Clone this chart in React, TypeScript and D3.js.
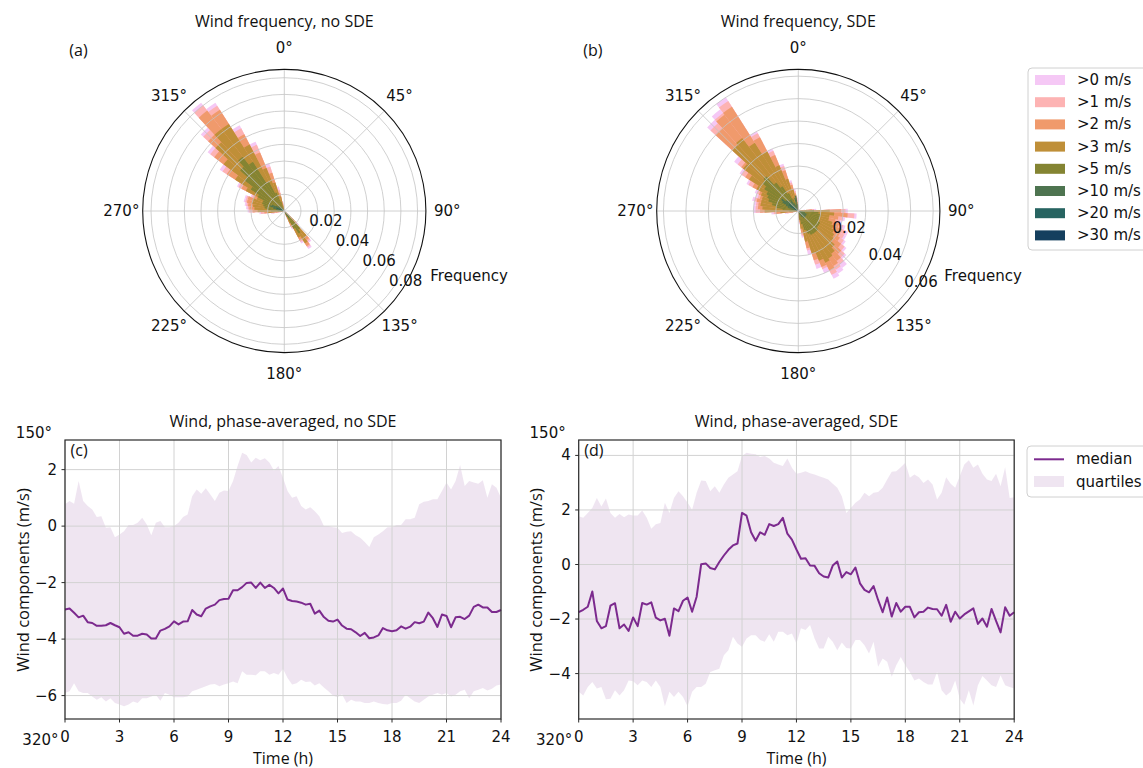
import React from 'react';
import * as d3 from 'd3';

const SANS = "'DejaVu Sans', sans-serif";
const HUMAN = "'Open Sans', sans-serif";

// speed classes of the wind rose
const SPEED_LABELS = ['>0 m/s', '>1 m/s', '>2 m/s', '>3 m/s', '>5 m/s', '>10 m/s', '>20 m/s', '>30 m/s'];
const SPEED_COLORS = ['#f5c8f5', '#fdb3b3', '#f09a6c', '#bf8f38', '#848432', '#4e7450', '#276461', '#153f5e'];
const BIN_WIDTH = 5; // degrees

// (a) no SDE: direction bins (deg) and frequency for each speed class
const DIRS_A = [255, 260, 265, 270, 275, 280, 285, 290, 295, 300, 305, 310, 315, 320, 325, 330, 335, 340, 345, 350, 355,
  130, 135, 140, 145, 150, 155, 160];
const A_GT0 = [0.004, 0.008, 0.015, 0.022, 0.023, 0.024, 0.025, 0.025, 0.022, 0.032, 0.046, 0.058, 0.068, 0.082, 0.077, 0.058, 0.045, 0.030, 0.015, 0.006, 0.002,
  0.004, 0.012, 0.024, 0.027, 0.022, 0.012, 0.005];
const A_GT1 = [0.003, 0.007, 0.014, 0.021, 0.022, 0.023, 0.024, 0.024, 0.021, 0.031, 0.044, 0.056, 0.066, 0.080, 0.075, 0.056, 0.043, 0.028, 0.013, 0.005, 0.001,
  0.003, 0.011, 0.023, 0.026, 0.021, 0.011, 0.004];
const A_GT2 = [0.002, 0.005, 0.012, 0.019, 0.021, 0.022, 0.023, 0.023, 0.020, 0.029, 0.041, 0.053, 0.062, 0.076, 0.072, 0.052, 0.038, 0.024, 0.011, 0.004, 0.001,
  0.002, 0.010, 0.022, 0.025, 0.020, 0.010, 0.003];
const A_GT3 = [0.001, 0.003, 0.010, 0.016, 0.018, 0.019, 0.020, 0.020, 0.018, 0.026, 0.035, 0.046, 0.056, 0.062, 0.062, 0.045, 0.028, 0.018, 0.009, 0.003, 0,
  0.001, 0.008, 0.020, 0.023, 0.018, 0.008, 0.002];
const A_GT5 = [0, 0.001, 0.004, 0.008, 0.010, 0.012, 0.013, 0.014, 0.014, 0.018, 0.024, 0.030, 0.036, 0.041, 0.035, 0.020, 0.012, 0.006, 0.002, 0.001, 0,
  0, 0.005, 0.014, 0.016, 0.012, 0.004, 0.001];
const A_GT10 = [0, 0, 0, 0.002, 0.004, 0.005, 0.007, 0.009, 0.008, 0.006, 0.005, 0.004, 0.004, 0.003, 0.002, 0.001, 0, 0, 0, 0, 0,
  0, 0.001, 0.004, 0.005, 0.003, 0.001, 0];
const A_GT20 = [0, 0, 0, 0, 0, 0.001, 0.003, 0.005, 0.003, 0.002, 0.001, 0, 0, 0, 0, 0, 0, 0, 0, 0, 0,
  0, 0, 0.001, 0.001, 0, 0, 0];
const A_GT30 = [0, 0, 0, 0, 0, 0, 0, 0.001, 0, 0, 0, 0, 0, 0, 0, 0, 0, 0, 0, 0, 0,
  0, 0, 0, 0, 0, 0, 0];

// (b) SDE
const DIRS_B = [255, 260, 265, 270, 275, 280, 285, 290, 295, 300, 305, 310, 315, 320, 325, 330, 335, 340, 345, 350, 355, 0,
  80, 85, 90, 95, 100, 105, 110, 115, 120, 125, 130, 135, 140, 145, 150, 155, 160, 165, 170, 175, 180];
const B_GT0 = [0.003, 0.006, 0.012, 0.020, 0.020, 0.020, 0.021, 0.020, 0.021, 0.026, 0.031, 0.036, 0.055, 0.057, 0.060, 0.040, 0.030, 0.022, 0.014, 0.010, 0.006, 0.003,
  0.003, 0.008, 0.022, 0.026, 0.021, 0.020, 0.022, 0.024, 0.024, 0.025, 0.027, 0.029, 0.032, 0.033, 0.034, 0.030, 0.027, 0.020, 0.012, 0.006, 0.003];
const B_GT1 = [0.002, 0.005, 0.011, 0.019, 0.019, 0.019, 0.020, 0.019, 0.020, 0.025, 0.030, 0.034, 0.053, 0.055, 0.058, 0.039, 0.029, 0.021, 0.013, 0.009, 0.005, 0.002,
  0.002, 0.007, 0.021, 0.025, 0.020, 0.019, 0.021, 0.023, 0.023, 0.024, 0.026, 0.028, 0.030, 0.031, 0.032, 0.028, 0.025, 0.018, 0.011, 0.005, 0.002];
const B_GT2 = [0.001, 0.004, 0.010, 0.017, 0.018, 0.018, 0.019, 0.018, 0.019, 0.023, 0.028, 0.032, 0.050, 0.054, 0.055, 0.037, 0.027, 0.019, 0.012, 0.008, 0.004, 0.001,
  0.002, 0.006, 0.019, 0.022, 0.018, 0.017, 0.019, 0.021, 0.021, 0.022, 0.024, 0.026, 0.028, 0.029, 0.030, 0.027, 0.023, 0.017, 0.010, 0.004, 0.002];
const B_GT3 = [0, 0.003, 0.008, 0.015, 0.016, 0.017, 0.017, 0.017, 0.018, 0.021, 0.026, 0.031, 0.040, 0.041, 0.036, 0.030, 0.022, 0.015, 0.010, 0.006, 0.003, 0,
  0.001, 0.004, 0.014, 0.016, 0.014, 0.014, 0.016, 0.017, 0.018, 0.019, 0.020, 0.022, 0.024, 0.025, 0.026, 0.024, 0.020, 0.014, 0.008, 0.003, 0.001];
const B_GT5 = [0, 0, 0.002, 0.004, 0.007, 0.010, 0.012, 0.014, 0.015, 0.016, 0.018, 0.020, 0.021, 0.016, 0.013, 0.009, 0.006, 0.004, 0.002, 0.001, 0, 0,
  0, 0.002, 0.007, 0.009, 0.010, 0.010, 0.010, 0.010, 0.011, 0.011, 0.011, 0.012, 0.012, 0.012, 0.012, 0.011, 0.009, 0.006, 0.004, 0.001, 0];
const B_GT10 = [0, 0, 0, 0, 0.001, 0.003, 0.004, 0.005, 0.006, 0.008, 0.009, 0.007, 0.006, 0.005, 0.006, 0.004, 0.003, 0.003, 0.006, 0.007, 0.003, 0,
  0, 0, 0.001, 0.002, 0.003, 0.003, 0.004, 0.004, 0.004, 0.004, 0.004, 0.004, 0.004, 0.003, 0.003, 0.002, 0.001, 0, 0, 0, 0];
const B_GT20 = [0, 0, 0, 0, 0, 0, 0, 0.001, 0.002, 0.004, 0.005, 0.003, 0.001, 0, 0, 0, 0, 0, 0, 0, 0, 0,
  0, 0, 0, 0, 0.001, 0.001, 0.001, 0.001, 0, 0, 0, 0, 0, 0, 0, 0, 0, 0, 0, 0, 0];
const B_GT30 = [0, 0, 0, 0, 0, 0, 0, 0, 0, 0.001, 0.002, 0.001, 0, 0, 0, 0, 0, 0, 0, 0, 0, 0,
  0, 0, 0, 0, 0, 0, 0, 0, 0, 0, 0, 0, 0, 0, 0, 0, 0, 0, 0, 0, 0];

// phase-averaged wind, 15 min steps from 0 to 24 h
const HOURS = d3.range(0, 24.001, 0.25);
const C_MEDIAN = [-2.95, -2.92, -3.07, -3.23, -3.17, -3.40, -3.43, -3.53, -3.53, -3.51, -3.43, -3.51, -3.58, -3.81, -3.76, -3.88, -3.88,
  -3.81, -3.84, -3.98, -3.98, -3.70, -3.64, -3.55, -3.37, -3.48, -3.38, -3.37, -2.97, -3.13, -3.19, -2.92, -2.84, -2.78, -2.62, -2.58,
  -2.57, -2.27, -2.27, -2.16, -2.01, -2.00, -2.19, -2.00, -2.19, -2.08, -2.19, -2.38, -2.21,
  -2.60, -2.65, -2.67, -2.71, -2.78, -2.75, -3.10, -2.99, -3.22, -3.35, -3.38, -3.31, -3.52, -3.63, -3.65, -3.76, -3.89, -3.78, -3.97, -3.94,
  -3.87, -3.61, -3.69, -3.72, -3.69, -3.55, -3.63, -3.56, -3.40, -3.44, -3.38, -3.06, -3.26, -3.57, -3.13, -3.18, -3.58, -3.23, -3.21, -3.29,
  -3.17, -2.86, -2.78, -2.88, -2.88, -3.04, -3.04, -2.97];
const C_UPPER = [0.77, 0.89, 0.79, 1.60, 0.89, 0.71, 0.59, 0.32, 0.35, -0.06, -0.04, -0.39, -0.30, -0.18, 0.04, 0.04, 0.12,
  0.30, 0.06, -0.32, 0.12, 0.18, -0.04, -0.04, 0.00, 0.12, 0.32, 0.41, 1.06, 1.30, 1.15, 1.34, 1.12, 0.89, 1.18, 1.26,
  1.24, 1.60, 2.13, 2.60, 2.52, 2.25, 2.42, 2.33, 2.40, 2.25, 1.97, 2.13, 1.71,
  1.24, 1.00, 1.06, 0.71, 0.59, 0.67, 0.53, 0.35, 0.00, 0.00, -0.04, -0.06, -0.24, -0.20, -0.18, -0.32, -0.41, -0.56, -0.74, -0.39,
  -0.30, -0.18, -0.04, -0.04, 0.04, 0.04, 0.24, 0.24, 0.30, 0.77, 0.86, 0.89, 0.95, 0.95, 1.24, 1.54, 1.30, 1.60, 2.16, 1.42,
  1.60, 1.54, 1.50, 1.62, 1.00, 1.48, 1.36, 1.00];
const C_LOWER = [-5.91, -5.85, -5.56, -5.85, -5.91, -5.91, -6.03, -6.15, -6.06, -6.21, -6.09, -6.26, -6.32, -6.38, -6.32, -6.21, -6.26,
  -6.09, -6.09, -6.03, -5.97, -6.18, -5.91, -5.97, -6.06, -6.06, -6.06, -6.03, -5.85, -5.79, -5.73, -5.67, -5.61, -5.59, -5.67, -5.61,
  -5.56, -5.50, -5.56, -5.14, -5.26, -5.26, -5.28, -5.14, -5.14, -5.26, -5.20, -5.26, -5.06,
  -5.38, -5.61, -5.56, -5.44, -5.52, -5.50, -5.64, -5.56, -5.71, -5.85, -6.00, -6.06, -5.95, -6.26, -6.15, -6.21, -6.21, -6.26, -6.26, -6.21,
  -6.26, -6.30, -6.32, -6.26, -6.26, -6.18, -5.97, -6.09, -6.21, -6.26, -6.15, -6.03, -5.97, -5.91, -5.97, -5.91, -6.03, -5.97, -5.85, -5.79,
  -6.09, -5.85, -5.79, -5.73, -5.82, -5.76, -5.64, -5.61];

const D_MEDIAN = [-1.75, -1.66, -1.55, -0.99, -2.07, -2.34, -2.26, -1.51, -1.42, -2.34, -2.20, -2.44, -1.94, -2.26, -1.41, -1.47, -1.39,
  -1.95, -2.05, -1.99, -2.61, -1.61, -1.71, -1.33, -1.21, -1.73, -1.18, 0.01, 0.04, -0.13, -0.18, 0.09, 0.33, 0.54, 0.70, 0.77,
  1.89, 1.79, 1.18, 0.87, 1.18, 1.09, 1.48, 1.41, 1.48, 1.71, 1.13, 0.91, 0.55,
  0.21, 0.23, -0.04, -0.05, -0.32, -0.44, -0.48, -0.04, 0.11, -0.48, -0.28, -0.36, -0.11, -0.69, -0.93, -1.02, -0.79, -1.30, -1.75, -1.21,
  -1.91, -1.41, -1.73, -1.55, -1.55, -1.94, -1.75, -1.73, -1.58, -1.63, -1.64, -1.88, -1.48, -2.10, -1.73, -1.98, -1.83, -1.72, -1.61, -2.18,
  -1.98, -2.28, -1.63, -2.07, -2.49, -1.57, -1.88, -1.75];
const D_UPPER = [1.77, 1.71, 1.89, 2.07, 2.44, 2.13, 2.42, 1.89, 1.71, 1.85, 1.73, 1.83, 1.80, 1.80, 1.98, 1.71, 1.31,
  1.48, 1.52, 2.26, 1.89, 2.44, 2.69, 2.50, 2.26, 2.01, 2.63, 3.08, 3.06, 2.69, 2.87, 2.63, 2.93, 3.18, 3.30, 3.42,
  3.98, 4.10, 4.06, 4.04, 3.94, 3.98, 3.89, 3.73, 3.67, 3.61, 3.89, 3.55, 3.33,
  3.36, 3.42, 3.35, 3.30, 3.24, 3.18, 3.12, 2.96, 2.81, 2.50, 1.89, 2.07, 2.26, 2.38, 2.63, 2.50, 2.63, 2.66, 2.81, 3.12,
  3.40, 3.42, 3.57, 3.73, 3.18, 3.30, 3.20, 2.99, 3.12, 2.93, 2.38, 2.63, 3.20, 2.96, 2.81, 3.24, 3.67, 3.82, 3.55, 3.67,
  3.33, 3.12, 3.06, 3.33, 2.87, 3.57, 2.44, 2.47];
const D_LOWER = [-4.67, -4.80, -4.49, -4.31, -4.55, -4.49, -4.94, -4.92, -4.61, -4.80, -4.61, -4.25, -4.28, -4.43, -4.25, -4.31, -4.49,
  -4.25, -4.49, -5.20, -4.67, -4.86, -4.67, -4.86, -5.20, -4.67, -4.49, -4.49, -4.37, -3.94, -3.88, -3.82, -3.33, -3.14, -2.65, -2.90,
  -3.02, -2.71, -2.59, -2.59, -2.77, -2.83, -2.56, -2.83, -2.47, -2.47, -2.59, -2.53, -2.90,
  -2.34, -2.40, -2.22, -2.71, -3.08, -3.08, -2.65, -2.83, -3.14, -2.86, -3.06, -3.08, -2.77, -2.77, -2.96, -3.26, -2.83, -3.75, -3.45, -3.57,
  -4.12, -3.69, -3.39, -3.69, -3.94, -4.25, -4.18, -4.31, -4.40, -4.40, -3.94, -4.61, -4.80, -4.67, -4.25, -4.92, -5.14, -4.61, -5.17, -4.43,
  -4.09, -4.25, -4.43, -4.49, -4.06, -4.43, -4.49, -4.55];

const X_TICKS = [0, 3, 6, 9, 12, 15, 18, 21, 24];
const C_Y_TICKS = [-6, -4, -2, 0, 2];
const D_Y_TICKS = [-4, -2, 0, 2, 4];
const COMPASS_TICKS = [0, 45, 90, 135, 180, 225, 270, 315];
const LINE_COLOR = '#7c2a8e';

const fmt = (v: number) => (v < 0 ? '\u2212' + Math.abs(v) : String(v));

function PolarRose({ cx, cy, radius, rMax, rings, rLabels, dirs, layers, title, letter }: any) {
  const r = d3.scaleLinear().domain([0, rMax]).range([0, radius]);
  const arc = d3.arc();
  const rad = Math.PI / 180;
  const labelDir = 37 * rad;
  return (
    <g>
      <text x={cx} y={26.5} textAnchor="middle" fontFamily={HUMAN} fontSize={16} fill="#111">{title}</text>
      <text x={cx - 215} y={55.5} fontFamily={HUMAN} fontSize={16} fill="#111">{letter}</text>
      <g transform={`translate(${cx},${cy})`}>
        {layers.map((vals: number[], li: number) => (
          <g key={li} fill={SPEED_COLORS[li]}>
            {vals.map((v, j) => v > 0 ? (
              <path key={j} d={arc({ innerRadius: 0, outerRadius: r(v),
                startAngle: (dirs[j] - BIN_WIDTH / 2) * rad, endAngle: (dirs[j] + BIN_WIDTH / 2) * rad }) as string} />
            ) : null)}
          </g>
        ))}
        {rings.map((t: number) => (
          <circle key={t} r={r(t)} fill="none" stroke="#c4c4c4" strokeWidth={0.8} />
        ))}
        {COMPASS_TICKS.map((a) => (
          <line key={a} x1={0} y1={0} x2={radius * Math.sin(a * rad)} y2={-radius * Math.cos(a * rad)}
            stroke="#c4c4c4" strokeWidth={0.8} />
        ))}
        <circle r={radius} fill="none" stroke="#111" strokeWidth={1.1} />
        {COMPASS_TICKS.map((a) => (
          <text key={a} x={163 * Math.sin(a * rad)} y={-163 * Math.cos(a * rad)} textAnchor="middle"
            dominantBaseline="central" fontFamily={SANS} fontSize={15} fill="#111">{a}°</text>
        ))}
        {rLabels.map((t: number) => (
          <text key={t} x={15 + r(t) * Math.cos(labelDir)} y={-10 + r(t) * Math.sin(labelDir)} textAnchor="middle"
            dominantBaseline="central" fontFamily={SANS} fontSize={15} fill="#111">{t.toFixed(2)}</text>
        ))}
        <text x={146} y={65} dominantBaseline="central" fontFamily={SANS} fontSize={15} fill="#111">Frequency</text>
      </g>
    </g>
  );
}

function PhasePanel({ left, right, top, bottom, median, upper, lower, yTicks, title, letter }: any) {
  const x = d3.scaleLinear().domain([0, 24]).range([left, right]);
  const lo = d3.min(lower) as number;
  const hi = d3.max(upper) as number;
  const pad = (hi - lo) * 0.05;
  const y = d3.scaleLinear().domain([lo - pad, hi + pad]).range([bottom, top]);
  const area = d3.area<number>().x((_, i) => x(HOURS[i])).y0((_, i) => y(lower[i])).y1((_, i) => y(upper[i]));
  const line = d3.line<number>().x((_, i) => x(HOURS[i])).y((d) => y(d));
  const mid = (left + right) / 2;
  return (
    <g>
      <text x={mid} y={426.5} textAnchor="middle" fontFamily={HUMAN} fontSize={16} fill="#111">{title}</text>
      <path d={area(median) as string} fill={LINE_COLOR} fillOpacity={0.12} />
      {X_TICKS.map((t) => (
        <line key={t} x1={x(t)} x2={x(t)} y1={top} y2={bottom} stroke="#d2d2d2" strokeWidth={1} />
      ))}
      {yTicks.map((t: number) => (
        <line key={t} x1={left} x2={right} y1={y(t)} y2={y(t)} stroke="#d2d2d2" strokeWidth={1} />
      ))}
      <path d={line(median) as string} fill="none" stroke={LINE_COLOR} strokeWidth={2} strokeLinejoin="round" />
      <rect x={left} y={top} width={right - left} height={bottom - top} fill="none" stroke="#2a2a2a" strokeWidth={1.2} />
      {X_TICKS.map((t) => (
        <g key={t}>
          <line x1={x(t)} x2={x(t)} y1={bottom} y2={bottom + 3.5} stroke="#2a2a2a" />
          <text x={x(t)} y={bottom + 18} textAnchor="middle" dominantBaseline="central" fontFamily={SANS} fontSize={15} fill="#111">{t}</text>
        </g>
      ))}
      {yTicks.map((t: number) => (
        <g key={t}>
          <line x1={left - 3.5} x2={left} y1={y(t)} y2={y(t)} stroke="#2a2a2a" />
          <text x={left - 8} y={y(t)} textAnchor="end" dominantBaseline="central" fontFamily={SANS} fontSize={15} fill="#111">{fmt(t)}</text>
        </g>
      ))}
      <text x={left + 5.5} y={455.5} fontFamily={HUMAN} fontSize={16} fill="#111">{letter}</text>
      <text x={left - 13} y={433} textAnchor="end" dominantBaseline="central" fontFamily={SANS} fontSize={15} fill="#111">150°</text>
      <text x={left - 6.5} y={740} textAnchor="end" dominantBaseline="central" fontFamily={SANS} fontSize={15} fill="#111">320°</text>
      <text transform={`translate(${left - 43},580) rotate(-90)`} textAnchor="middle" dominantBaseline="central"
        fontFamily={HUMAN} fontSize={16.5} fill="#111">Wind components (m/s)</text>
      <text x={mid} y={758} textAnchor="middle" dominantBaseline="central" fontFamily={HUMAN} fontSize={16} fill="#111">Time (h)</text>
    </g>
  );
}

export default function App() {
  return (
    <svg width={1143} height={768} style={{ position: 'absolute', left: 0, top: 0, background: '#fff' }}>
      <PolarRose cx={284.3} cy={211} radius={141.6} rMax={0.085}
        rings={[0.01, 0.02, 0.03, 0.04, 0.05, 0.06, 0.07, 0.08]} rLabels={[0.02, 0.04, 0.06, 0.08]}
        dirs={DIRS_A} layers={[A_GT0, A_GT1, A_GT2, A_GT3, A_GT5, A_GT10, A_GT20, A_GT30]}
        title="Wind frequency, no SDE" letter="(a)" />
      <PolarRose cx={798.3} cy={211} radius={141.6} rMax={0.063}
        rings={[0.01, 0.02, 0.03, 0.04, 0.05, 0.06]} rLabels={[0.02, 0.04, 0.06]}
        dirs={DIRS_B} layers={[B_GT0, B_GT1, B_GT2, B_GT3, B_GT5, B_GT10, B_GT20, B_GT30]}
        title="Wind frequency, SDE" letter="(b)" />

      <g>
        <rect x={1028} y={68} width={130} height={182} rx={4} fill="#fff" stroke="#d0d0d0" />
        {SPEED_LABELS.map((s, i) => (
          <g key={s}>
            <rect x={1035} y={75 + i * 22.2} width={30} height={10} fill={SPEED_COLORS[i]} />
            <text x={1077} y={80 + i * 22.2} dominantBaseline="central" fontFamily={SANS} fontSize={15} fill="#111">{s}</text>
          </g>
        ))}
      </g>

      <PhasePanel left={65} right={501} top={440} bottom={719} median={C_MEDIAN} upper={C_UPPER} lower={C_LOWER}
        yTicks={C_Y_TICKS} title="Wind, phase-averaged, no SDE" letter="(c)" />
      <PhasePanel left={578.7} right={1014.2} top={440} bottom={719} median={D_MEDIAN} upper={D_UPPER} lower={D_LOWER}
        yTicks={D_Y_TICKS} title="Wind, phase-averaged, SDE" letter="(d)" />

      <g>
        <rect x={1027} y={446} width={130} height={51} rx={4} fill="#fff" stroke="#d0d0d0" />
        <line x1={1034} x2={1064} y1={459.3} y2={459.3} stroke={LINE_COLOR} strokeWidth={2} />
        <text x={1076} y={459.3} dominantBaseline="central" fontFamily={SANS} fontSize={15} fill="#111">median</text>
        <rect x={1034} y={476} width={30} height={11} fill={LINE_COLOR} fillOpacity={0.12} />
        <text x={1076} y={481.5} dominantBaseline="central" fontFamily={SANS} fontSize={15} fill="#111">quartiles</text>
      </g>
    </svg>
  );
}
